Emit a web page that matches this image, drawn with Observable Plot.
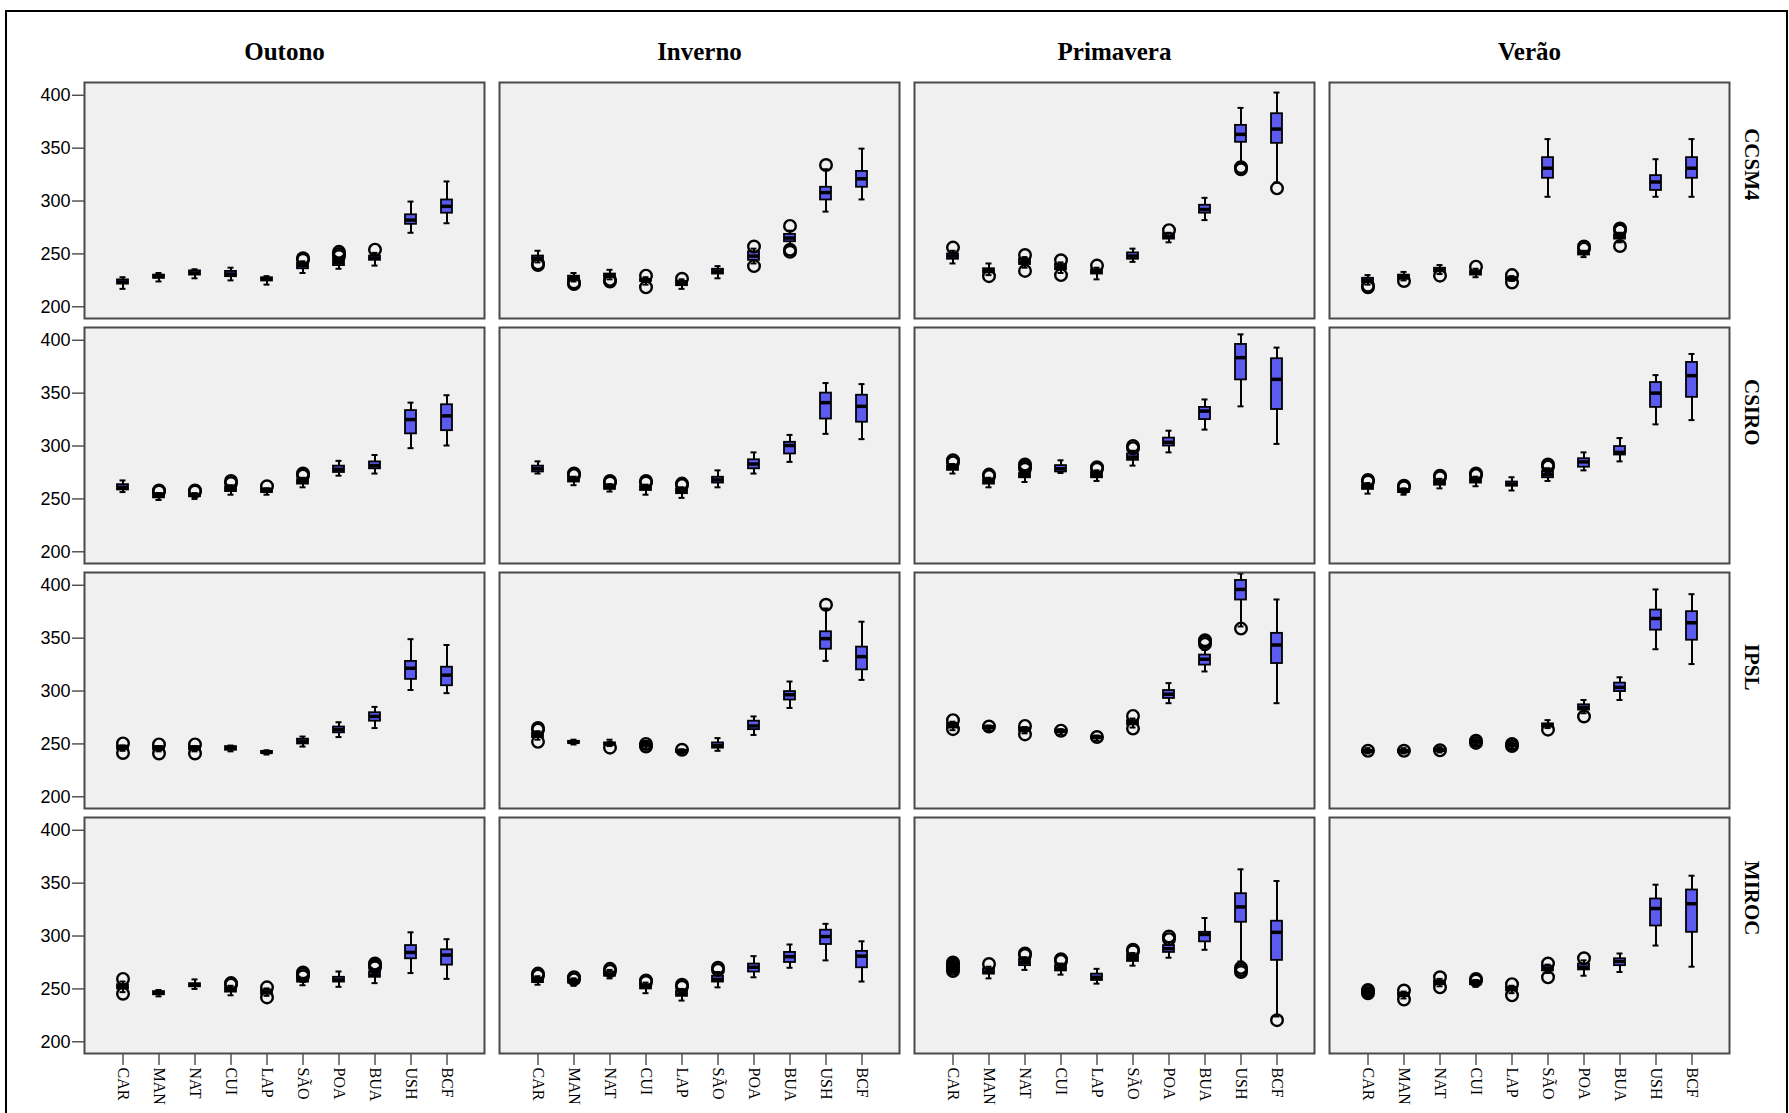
<!DOCTYPE html>
<html>
<head>
<meta charset="utf-8">
<script src="https://cdn.jsdelivr.net/npm/d3@7"></script>
<script src="https://cdn.jsdelivr.net/npm/@observablehq/plot@0.6"></script>
<style>
  html, body { margin: 0; padding: 0; background: #fff; overflow: hidden; }
  #wrap { position: relative; width: 1789px; height: 1113px; }
  #border { position: absolute; left: 5px; top: 10px; width: 1779px; height: 1200px; border: 2px solid #000; pointer-events: none; }
</style>
</head>
<body>
<div id="wrap"><div id="chart"></div><div id="border"></div></div>
<script>
const seasons = ["Outono", "Inverno", "Primavera", "Verão"];
const models = ["CCSM4", "CSIRO", "IPSL", "MIROC"];
const cats = ["CAR", "MAN", "NAT", "CUI", "LAP", "SÃO", "POA", "BUA", "USH", "BCF"];

// rows: model-major, then season (CCSM4 Outono, CCSM4 Inverno, ...); columns follow cats
const whiskerLow = [
  [217, 224, 227, 225, 221, 232, 236, 239, 270, 279],
  [242, 224, 226, 221, 217, 227, 241, 257.5, 290, 301.5],
  [241, 230, 237, 232, 226, 242.5, 261, 282, 336.5, 317.5],
  [221, 225, 231, 228, 224.5, 304, 247, 261, 304, 304],
  [256.5, 249, 250, 254, 254, 261, 272, 274, 298, 300.5],
  [274, 263, 257, 254, 251, 261, 274, 285, 311.5, 306.5],
  [274, 261, 266, 274.5, 267, 281.5, 294, 315.5, 337.5, 302],
  [255, 254, 260, 262, 258, 267, 277, 285.5, 320.5, 324.5],
  [243.5, 243, 243, 243, 240, 247.5, 256.5, 265, 301, 298],
  [254, 249.5, 248, 245, 241, 243.5, 258.5, 284, 328.5, 310.5],
  [263, 263, 260, 259, 253, 265.5, 288.5, 318.5, 361, 288.5],
  [241, 241, 242, 249, 246, 265, 279, 291.5, 339.5, 325.5],
  [247, 243, 250, 244, 243.5, 253.5, 252, 255.5, 265, 259.5],
  [254, 253, 260, 246, 239, 251.5, 261, 270, 277, 257],
  [266, 260, 268, 263.5, 255, 272, 279.5, 287, 276, 224],
  [242.5, 241, 252.5, 252, 246, 265, 262.5, 266, 291, 271]
];
const quartile1 = [
  [221.5, 227, 230, 228.5, 224.5, 236, 239, 244, 278, 288.5],
  [244, 225, 228, 224, 220, 231, 244, 261.5, 301, 313],
  [245, 232, 240, 235, 231, 245, 264, 288.5, 355.5, 354.5],
  [223, 226, 233, 230, 225.5, 321.5, 249, 264, 310, 321.5],
  [258.5, 251, 252, 257, 256, 264, 275, 278.5, 311.5, 314.5],
  [275.5, 266, 259, 258, 255, 265, 278.5, 292.5, 325.5, 322.5],
  [277, 264, 270, 275.5, 270, 286.5, 300, 325, 362.5, 334.5],
  [259, 256, 263, 265, 262, 270, 280, 291.5, 336.5, 346],
  [245, 244.5, 244.5, 244, 241, 250, 260.5, 271.5, 311, 305],
  [256, 250.5, 249, 247, 242, 246, 263.5, 291.5, 339.5, 320],
  [265, 264.5, 262, 261, 255, 268, 293, 324.5, 386, 326],
  [242, 242, 243, 250.5, 247.5, 266, 282, 299.5, 357.5, 348],
  [250, 244.5, 252, 247, 245, 256.5, 256.5, 261, 278.5, 272.5],
  [256, 255.5, 262, 250, 243, 256.5, 266, 275, 292, 270],
  [268, 264, 272, 267, 258, 276, 284.5, 294.5, 313, 277],
  [245, 243, 254, 254, 248, 267, 268, 272, 309.5, 303.5]
];
const medians = [
  [223.5, 228.5, 232, 231, 226, 239, 242, 246, 282, 295],
  [246, 227, 229, 225, 222, 233.5, 248, 265, 308, 321],
  [248, 234, 242, 237, 233, 248, 266, 292, 363, 368],
  [225, 228, 235, 232, 226.5, 331, 251, 266, 318, 331],
  [261, 253, 253.5, 259, 258, 266, 278, 281.5, 325, 328.5],
  [278.5, 268, 261, 260, 257, 268, 283, 300.5, 341, 337.5],
  [279, 266, 272, 278.5, 272.5, 289.5, 303.5, 333, 383.5, 363],
  [261, 258, 265, 267, 264, 273, 285, 294, 350, 366.5],
  [246.5, 246, 246, 246, 242, 252.5, 263.5, 276, 321.5, 315],
  [258, 251.5, 250, 248.5, 243, 248.5, 267, 296.5, 349.5, 332.5],
  [267, 265.5, 263.5, 262, 256, 270, 297, 330, 396, 343.5],
  [243, 243, 244, 252, 249, 267.5, 284.5, 303.5, 368.5, 364.5],
  [252, 246, 253.5, 249, 247, 258, 258.5, 263, 284.5, 282],
  [258, 257, 264, 252, 245, 259, 270.5, 280.5, 299.5, 281],
  [270.5, 266, 275, 269.5, 261, 279, 288, 301.5, 327.5, 303.5],
  [247, 244.5, 256, 256, 250, 269.5, 270.5, 276, 326, 330.5]
];
const quartile3 = [
  [225.5, 230, 234, 233.5, 227.5, 241, 245, 248, 287, 301],
  [248, 229, 231, 226, 224, 235.5, 252, 268.5, 313, 328],
  [250, 236, 245, 240, 235, 251, 269, 296, 371.5, 382.5],
  [227, 230, 236.5, 234, 227.5, 341, 252, 268, 324, 341],
  [263.5, 255, 254.5, 261, 259.5, 268, 281, 285, 333.5, 339],
  [281, 270, 263, 262, 259, 270.5, 287, 303.5, 350, 348],
  [281, 268, 274, 281.5, 275, 292.5, 307.5, 336.5, 396, 382.5],
  [263, 259, 267, 269, 266, 276, 288, 299.5, 360, 379],
  [248, 247.5, 247.5, 247.5, 243, 254.5, 266, 279.5, 328, 322.5],
  [260, 252.5, 251, 250, 244, 251, 271.5, 299.5, 356, 341.5],
  [269.5, 266.5, 265, 263, 257, 272, 300.5, 334, 404.5, 354.5],
  [244, 244, 245, 253, 250, 269, 287, 307.5, 376.5, 375],
  [254, 247.5, 255, 251, 249, 259.5, 261, 266, 291, 287],
  [260, 258.5, 266, 254, 248, 262, 273.5, 284.5, 305.5, 285.5],
  [272.5, 269, 278, 272, 264, 282, 291, 303.5, 340, 314],
  [248.5, 246, 257.5, 257.5, 251.5, 271.5, 273.5, 278.5, 335, 343.5]
];
const whiskerHigh = [
  [228, 232, 235.5, 237, 229, 243, 246, 251, 299.5, 318.5],
  [253, 232, 235, 228, 226, 238.5, 255, 272, 330, 349.5],
  [253, 241, 247, 242, 237, 255, 270, 303, 388, 402.5],
  [230, 233, 239.5, 236, 229, 358.5, 253, 270, 339.5, 358.5],
  [267.5, 255.5, 255.5, 263, 260, 270, 286, 291.5, 341, 348],
  [285.5, 271, 264, 263.5, 261, 277, 294, 310.5, 359.5, 358.5],
  [283, 270, 277, 286.5, 277, 295.5, 314.5, 344, 405.5, 393],
  [265, 260, 269, 271, 270.5, 279, 294, 307.5, 367, 387],
  [248.5, 248, 248, 248.5, 244, 257, 270.5, 285, 349, 343.5],
  [262, 254, 254, 251, 245, 255.5, 276, 309, 378, 365.5],
  [271, 267.5, 266, 264, 258, 274, 307.5, 339, 411, 386.5],
  [246, 246, 247, 254.5, 251.5, 272.5, 291.5, 313, 396, 391.5],
  [257, 249, 259, 253, 250.5, 260.5, 266.5, 268, 303.5, 297],
  [262, 260, 268, 256, 250, 266, 281, 292, 311.5, 295],
  [274, 271, 280, 274, 269, 284, 294, 317, 363, 352],
  [250, 247.5, 259.5, 258.5, 253, 273, 277, 283.5, 348.5, 357]
];
// outliers: [model, season, category, values]
const outliers = [
  ["CCSM4", "Outono", "SÃO", [244.5, 246]], ["CCSM4", "Outono", "POA", [248, 250, 252]], ["CCSM4", "Outono", "BUA", [254]],
  ["CCSM4", "Inverno", "CAR", [239.5, 241]], ["CCSM4", "Inverno", "MAN", [221.5, 223]], ["CCSM4", "Inverno", "NAT", [224, 225.5]],
  ["CCSM4", "Inverno", "CUI", [218.5, 229.5]], ["CCSM4", "Inverno", "LAP", [226.5]], ["CCSM4", "Inverno", "POA", [238.5, 257]],
  ["CCSM4", "Inverno", "BUA", [252, 254, 276.5]], ["CCSM4", "Inverno", "USH", [334]],
  ["CCSM4", "Primavera", "CAR", [256]], ["CCSM4", "Primavera", "MAN", [229]], ["CCSM4", "Primavera", "NAT", [234, 249]],
  ["CCSM4", "Primavera", "CUI", [230, 244]], ["CCSM4", "Primavera", "LAP", [239]], ["CCSM4", "Primavera", "POA", [272.5]],
  ["CCSM4", "Primavera", "USH", [330, 332]], ["CCSM4", "Primavera", "BCF", [312]],
  ["CCSM4", "Verão", "CAR", [218.5, 220]], ["CCSM4", "Verão", "MAN", [224.5]], ["CCSM4", "Verão", "NAT", [229.5]],
  ["CCSM4", "Verão", "CUI", [238]], ["CCSM4", "Verão", "LAP", [223, 230]], ["CCSM4", "Verão", "POA", [255, 257]],
  ["CCSM4", "Verão", "BUA", [257.5, 272, 274]],
  ["CSIRO", "Outono", "MAN", [257, 258]], ["CSIRO", "Outono", "NAT", [257, 258]], ["CSIRO", "Outono", "CUI", [265, 267]],
  ["CSIRO", "Outono", "LAP", [262]], ["CSIRO", "Outono", "SÃO", [272, 274]],
  ["CSIRO", "Inverno", "MAN", [272.5, 274]], ["CSIRO", "Inverno", "NAT", [265.5, 267]], ["CSIRO", "Inverno", "CUI", [265.5, 267]],
  ["CSIRO", "Inverno", "LAP", [263, 264.5]],
  ["CSIRO", "Primavera", "CAR", [284.5, 286.5]], ["CSIRO", "Primavera", "MAN", [271.5, 273]], ["CSIRO", "Primavera", "NAT", [278.5, 280.5, 282.5]],
  ["CSIRO", "Primavera", "LAP", [278.5, 280]], ["CSIRO", "Primavera", "SÃO", [298, 300]],
  ["CSIRO", "Verão", "CAR", [266.5, 268]], ["CSIRO", "Verão", "MAN", [261, 262.5]], ["CSIRO", "Verão", "NAT", [270.5, 272]],
  ["CSIRO", "Verão", "CUI", [272.5, 274]], ["CSIRO", "Verão", "SÃO", [280.5, 282.5]],
  ["IPSL", "Outono", "CAR", [241.5, 250.5]], ["IPSL", "Outono", "MAN", [241, 249.5]], ["IPSL", "Outono", "NAT", [241, 249.5]],
  ["IPSL", "Inverno", "CAR", [252, 263.5, 265]], ["IPSL", "Inverno", "NAT", [246.5]], ["IPSL", "Inverno", "CUI", [247.5, 250]],
  ["IPSL", "Inverno", "LAP", [244.5]], ["IPSL", "Inverno", "USH", [381.5]],
  ["IPSL", "Primavera", "CAR", [264, 272.5]], ["IPSL", "Primavera", "MAN", [266.5]], ["IPSL", "Primavera", "NAT", [259, 267]],
  ["IPSL", "Primavera", "CUI", [262.5]], ["IPSL", "Primavera", "LAP", [256.5]], ["IPSL", "Primavera", "SÃO", [264.5, 276.5]],
  ["IPSL", "Primavera", "BUA", [344.5, 346.5, 348]], ["IPSL", "Primavera", "USH", [359]],
  ["IPSL", "Verão", "CAR", [243.5]], ["IPSL", "Verão", "MAN", [243.5]], ["IPSL", "Verão", "NAT", [244]],
  ["IPSL", "Verão", "CUI", [251, 253]], ["IPSL", "Verão", "LAP", [248, 250]], ["IPSL", "Verão", "SÃO", [263.5]],
  ["IPSL", "Verão", "POA", [276]],
  ["MIROC", "Outono", "CAR", [245.5, 259.5]], ["MIROC", "Outono", "CUI", [254, 255.5]], ["MIROC", "Outono", "LAP", [242, 251.5]],
  ["MIROC", "Outono", "SÃO", [262, 264, 265.5]], ["MIROC", "Outono", "BUA", [270.5, 272, 274]],
  ["MIROC", "Inverno", "CAR", [262.5, 264.5]], ["MIROC", "Inverno", "MAN", [259, 261]], ["MIROC", "Inverno", "NAT", [267, 269]],
  ["MIROC", "Inverno", "CUI", [256.5, 258]], ["MIROC", "Inverno", "LAP", [252, 254]], ["MIROC", "Inverno", "SÃO", [268, 270]],
  ["MIROC", "Primavera", "CAR", [267, 269, 271, 273, 275]], ["MIROC", "Primavera", "MAN", [273.5]], ["MIROC", "Primavera", "NAT", [282, 283.5]],
  ["MIROC", "Primavera", "CUI", [276.5, 278]], ["MIROC", "Primavera", "SÃO", [285.5, 287]], ["MIROC", "Primavera", "POA", [297, 299.5]],
  ["MIROC", "Primavera", "USH", [266, 268, 270]], ["MIROC", "Primavera", "BCF", [220.5]],
  ["MIROC", "Verão", "CAR", [246, 248, 249]], ["MIROC", "Verão", "MAN", [240, 248.5]], ["MIROC", "Verão", "NAT", [251.5, 261]],
  ["MIROC", "Verão", "CUI", [258, 259.5]], ["MIROC", "Verão", "LAP", [244, 254.5]], ["MIROC", "Verão", "SÃO", [261, 274]],
  ["MIROC", "Verão", "POA", [279]]
];
const yTicks = [200, 250, 300, 350, 400];

// build tables
const boxes = [];
models.forEach((m, mi) => seasons.forEach((s, si) => {
  const r = mi * 4 + si;
  cats.forEach((c, ci) => boxes.push({
    model: m, season: s, cat: c,
    lo: whiskerLow[r][ci], q1: quartile1[r][ci], med: medians[r][ci],
    q3: quartile3[r][ci], hi: whiskerHigh[r][ci]
  }));
}));
const outRows = outliers.flatMap(([m, s, c, vals]) => vals.map(v => ({model: m, season: s, cat: c, value: v})));

const F = {fx: "season", fy: "model", x: "cat"};
const blue = "#5b5bf0";
const serif = "Liberation Serif, Times New Roman, serif";

const chart = Plot.plot({
  width: 1789,
  height: 1113,
  marginTop: 80,
  marginLeft: 82,
  marginRight: 58,
  marginBottom: 59,
  style: {background: "transparent", color: "#000"},
  fx: {domain: seasons, paddingInner: 0.036, paddingOuter: 0, axis: null},
  fy: {domain: models, paddingInner: 0.037, paddingOuter: 0, axis: null},
  x: {domain: cats, paddingInner: 0.7, paddingOuter: 0.9, label: null},
  y: {domain: [189, 412], label: null},
  marks: [
    Plot.frame({fill: "#f0f0f0"}),
    Plot.ruleX(boxes, {...F, y1: "lo", y2: "hi", stroke: "#000", strokeWidth: 2}),
    Plot.tickY(boxes, {...F, y: "lo", stroke: "#000", strokeWidth: 2, insetLeft: 2.5, insetRight: 2.5}),
    Plot.tickY(boxes, {...F, y: "hi", stroke: "#000", strokeWidth: 2, insetLeft: 2.5, insetRight: 2.5}),
    Plot.barY(boxes, {...F, y1: "q1", y2: "q3", fill: blue, stroke: "#000", strokeWidth: 1.8}),
    Plot.tickY(boxes, {...F, y: "med", stroke: "#000", strokeWidth: 3.5}),
    Plot.dot(outRows, {...F, y: "value", r: 5.8, stroke: "#000", strokeWidth: 2.4, fill: "none"}),
    Plot.axisY({anchor: "left", ticks: yTicks, tickSize: 12, tickPadding: 2, fontSize: 18, fontFamily: "Liberation Sans, Arial, sans-serif", stroke: "#000", label: null}),
    Plot.axisX({anchor: "bottom", tickSize: 12, tickPadding: 2, tickRotate: 90, fontSize: 16, fontFamily: serif, stroke: "#000", label: null}),
    Plot.text(seasons, {fx: d => d, fy: () => "CCSM4", text: d => d, frameAnchor: "top", dy: -23, lineAnchor: "bottom", fontSize: 25, fontWeight: "bold", fontFamily: serif, fill: "#000"}),
    Plot.text(models, {fy: d => d, fx: () => "Verão", text: d => d, frameAnchor: "right", dx: 22, rotate: 90, fontSize: 21, fontWeight: "bold", fontFamily: serif, fill: "#000"}),
    Plot.frame({stroke: "#4a4a4a", strokeWidth: 2})
  ]
});
document.getElementById("chart").appendChild(chart);
</script>
</body>
</html>
